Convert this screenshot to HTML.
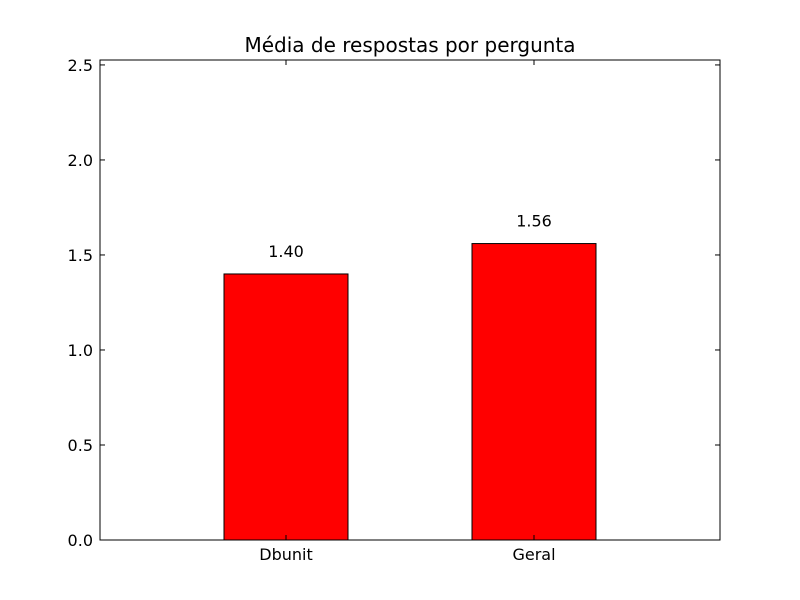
<!DOCTYPE html>
<html><head><meta charset="utf-8">
<style>
html,body{margin:0;padding:0;background:#fff;}
svg{display:block;font-family:"DejaVu Sans","Liberation Sans",sans-serif;}
</style></head>
<body>
<svg id="chart" width="800" height="600">
<rect x="0" y="0" width="800" height="600" fill="#fff"/>
<text x="410" y="52" font-size="20" text-anchor="middle">Média de respostas por pergunta</text>
<g id="marks"></g>
</svg>
<script>
const categories = ["Dbunit", "Geral"];
const values = [1.40, 1.56];
const valueLabels = ["1.40", "1.56"];
const yTicks = [0.0, 0.5, 1.0, 1.5, 2.0, 2.5];
const yTickLabels = ["0.0", "0.5", "1.0", "1.5", "2.0", "2.5"];

const L = 100, R = 720, T = 60, B = 540;
const yMax = 2.526, xMin = -0.75, xMax = 1.75, barW = 0.5;
const y = v => B - (v / yMax) * (B - T);
const x = i => L + (i - xMin) / (xMax - xMin) * (R - L);
const NS = "http://www.w3.org/2000/svg";
const g = document.getElementById("marks");
function mk(tag, attrs, parent) {
  const e = document.createElementNS(NS, tag);
  for (const k in attrs) e.setAttribute(k, attrs[k]);
  (parent || g).appendChild(e);
  return e;
}

categories.forEach((c, i) => {
  const x0 = x(i - barW / 2), x1 = x(i + barW / 2);
  const bar = mk("rect", {x: x0, y: y(values[i]), width: x1 - x0, height: B - y(values[i]), fill: "#ff0000", stroke: "#000", "stroke-width": 1});
  
  
  const lbl = mk("text", {x: x(i), y: y(values[i]) - 17, "font-size": 16, "text-anchor": "middle"});
  lbl.textContent = valueLabels[i];
  
  
  const xl = mk("text", {x: x(i), y: B + 20, "font-size": 16, "text-anchor": "middle"});
  xl.textContent = c;
  
  
  const t1 = mk("line", {x1: x(i), x2: x(i), y1: B, y2: B - 5, stroke: "#000"});
  
  
  const t2 = mk("line", {x1: x(i), x2: x(i), y1: T, y2: T + 5, stroke: "#000"});
  
  
});

yTicks.forEach((v, i) => {
  const tl = mk("line", {x1: L, x2: L + 5, y1: y(v), y2: y(v), stroke: "#000"});
  
  
  const tr = mk("line", {x1: R, x2: R - 5, y1: y(v), y2: y(v), stroke: "#000"});
  
  
  const t = mk("text", {x: L - 7, y: y(v) + 6, "font-size": 16, "text-anchor": "end"});
  t.textContent = yTickLabels[i];
  
  
});

const frame = mk("rect", {x: L, y: T, width: R - L, height: B - T, fill: "none", stroke: "#000", "stroke-width": 1});


</script>
</body></html>
